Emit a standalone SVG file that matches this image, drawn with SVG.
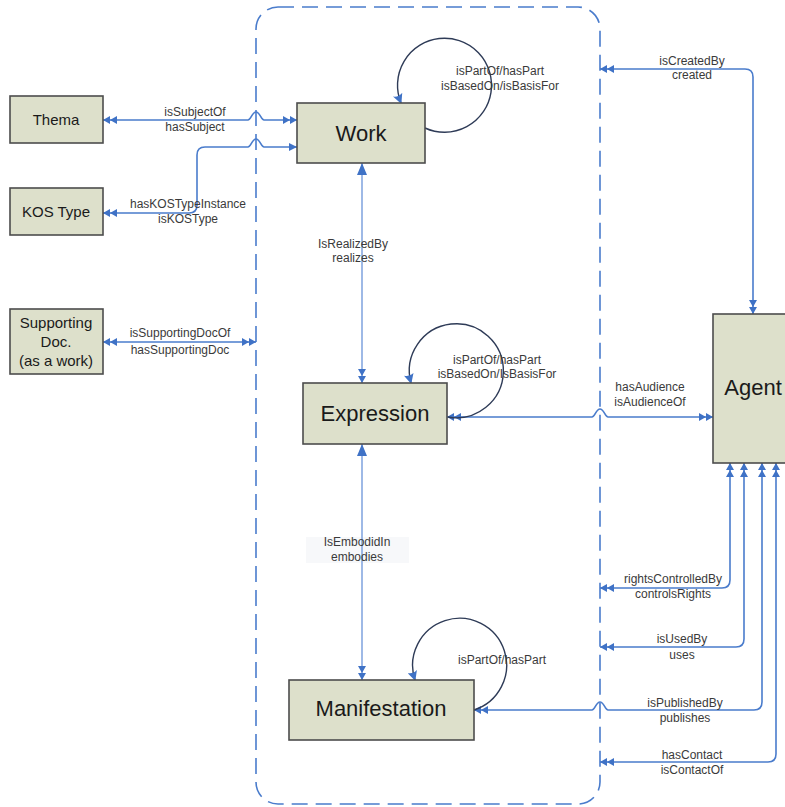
<svg xmlns="http://www.w3.org/2000/svg" width="785" height="807" viewBox="0 0 785 807">
<style>
.box{fill:#dde0cb;stroke:#4d4d4d;stroke-width:1.6}
.nl{font-family:"Liberation Sans",Arial,sans-serif;fill:#1a1a1a;text-anchor:middle}
.lb{font-family:"Liberation Sans",Arial,sans-serif;font-size:12px;fill:#3a3a3a;text-anchor:middle}
.c{fill:none;stroke:#4a7ccc;stroke-width:1.6}
.cl{fill:none;stroke:#86a8e0;stroke-width:1.6}
.loop{fill:none;stroke:#2e3b57;stroke-width:1.4}
</style>
<defs>
<marker id="dbl" markerUnits="userSpaceOnUse" viewBox="0 0 14 8" refX="14" refY="4" markerWidth="14" markerHeight="8" orient="auto-start-reverse">
<path d="M0,0 L7,4 L0,8 Z M7,0 L14,4 L7,8 Z" fill="#3f72c6"/>
</marker>
<marker id="sgl" markerUnits="userSpaceOnUse" viewBox="0 0 8 8" refX="8" refY="4" markerWidth="8" markerHeight="8" orient="auto-start-reverse">
<path d="M0,0 L8,4 L0,8 Z" fill="#3f72c6"/>
</marker>
<marker id="big" markerUnits="userSpaceOnUse" viewBox="0 0 12 10" refX="12" refY="5" markerWidth="12" markerHeight="10" orient="auto-start-reverse">
<path d="M0,0 L12,5 L0,10 Z" fill="#3f72c6"/>
</marker>
<marker id="la" markerUnits="userSpaceOnUse" viewBox="0 0 10 10" refX="9" refY="5" markerWidth="10" markerHeight="10" orient="auto">
<path d="M0,0 L10,5 L0,10 Q3,5 0,0 Z" fill="#3f72c6"/>
</marker>
</defs>

<g id="boundary">
<rect x="256" y="7" width="344" height="797" rx="22" fill="none" stroke="#4a7ccc" stroke-width="1.6" stroke-dasharray="16,8"/>
</g>

<g id="connectors">
<path class="c" d="M103,120 H248 C251,120 252,112 256,112 C260,112 261,120 264,120 H297" marker-start="url(#dbl)" marker-end="url(#dbl)"/>
<path class="c" d="M103,213 H189 Q197,213 197,205 V155 Q197,147 205,147 H248 C251,147 252,139 256,139 C260,139 261,147 264,147 H297" marker-start="url(#dbl)" marker-end="url(#sgl)"/>
<path class="c" d="M103,342 H256" marker-start="url(#dbl)" marker-end="url(#dbl)"/>
<path class="cl" d="M362,163 V383" marker-start="url(#big)" marker-end="url(#dbl)"/>
<path class="cl" d="M362,444 V680" marker-start="url(#big)" marker-end="url(#dbl)"/>
<path class="c" d="M447,417 H592 C595,417 596,409 600,409 C604,409 605,417 608,417 H713" marker-start="url(#dbl)" marker-end="url(#dbl)"/>
<path class="c" d="M753,314 V77 Q753,69 745,69 H600" marker-start="url(#dbl)" marker-end="url(#dbl)"/>
<path class="c" d="M730,463 V580 Q730,588 722,588 H600" marker-start="url(#dbl)" marker-end="url(#dbl)"/>
<path class="c" d="M744,463 V639 Q744,647 736,647 H600" marker-start="url(#dbl)" marker-end="url(#dbl)"/>
<path class="c" d="M762,463 V702 Q762,710 754,710 H608 C605,710 604,702 600,702 C596,702 595,710 592,710 H474" marker-start="url(#dbl)" marker-end="url(#dbl)"/>
<path class="c" d="M776,463 V754 Q776,762 768,762 H600" marker-start="url(#dbl)" marker-end="url(#dbl)"/>
<path class="loop" d="M425,128 A47,47 0 1 0 401,103" marker-end="url(#la)"/>
<path class="loop" d="M448,417 A47,47 0 1 0 411,383" marker-end="url(#la)"/>
<path class="loop" d="M474,710 A47,47 0 1 0 415,680" marker-end="url(#la)"/>
</g>

<g id="edge-labels">
<text class="lb" x="195" y="116">isSubjectOf</text>
<text class="lb" x="195" y="131">hasSubject</text>
<text class="lb" x="188" y="208">hasKOSTypeInstance</text>
<text class="lb" x="188" y="223">isKOSType</text>
<text class="lb" x="180" y="337">isSupportingDocOf</text>
<text class="lb" x="180" y="354">hasSupportingDoc</text>
<text class="lb" x="500" y="75">isPartOf/hasPart</text>
<text class="lb" x="500" y="90">isBasedOn/isBasisFor</text>
<text class="lb" x="353" y="248">IsRealizedBy</text>
<text class="lb" x="353" y="262">realizes</text>
<text class="lb" x="497" y="364">isPartOf/hasPart</text>
<text class="lb" x="497" y="378">isBasedOn/IsBasisFor</text>
<text class="lb" x="650" y="391">hasAudience</text>
<text class="lb" x="650" y="406">isAudienceOf</text>
<rect x="306" y="537" width="103" height="26" fill="#f7f8fa"/>
<line x1="362" y1="537" x2="362" y2="563" stroke="#86a8e0" stroke-width="1.6"/>
<text class="lb" x="357" y="546">IsEmbodidIn</text>
<text class="lb" x="357" y="561">embodies</text>
<text class="lb" x="502" y="664">isPartOf/hasPart</text>
<text class="lb" x="692" y="65">isCreatedBy</text>
<text class="lb" x="692" y="79">created</text>
<text class="lb" x="673" y="583">rightsControlledBy</text>
<text class="lb" x="673" y="598">controlsRights</text>
<text class="lb" x="682" y="643">isUsedBy</text>
<text class="lb" x="682" y="659">uses</text>
<text class="lb" x="685" y="707">isPublishedBy</text>
<text class="lb" x="685" y="722">publishes</text>
<text class="lb" x="692" y="759">hasContact</text>
<text class="lb" x="692" y="774">isContactOf</text>
</g>

<g id="thema"><rect class="box" x="10" y="96" width="93" height="47"/><text class="nl" x="56" y="125" font-size="15">Thema</text></g>
<g id="kos-type"><rect class="box" x="10" y="188" width="93" height="47"/><text class="nl" x="56" y="217" font-size="15">KOS Type</text></g>
<g id="supporting-doc"><rect class="box" x="10" y="309" width="93" height="65"/><text class="nl" x="56" y="328" font-size="15">Supporting</text><text class="nl" x="56" y="347" font-size="15">Doc.</text><text class="nl" x="56" y="366" font-size="15">(as a work)</text></g>
<g id="work"><rect class="box" x="297" y="103" width="128" height="60"/><text class="nl" x="361" y="141" font-size="22">Work</text></g>
<g id="expression"><rect class="box" x="303" y="383" width="144" height="61"/><text class="nl" x="375" y="421" font-size="22">Expression</text></g>
<g id="manifestation"><rect class="box" x="289" y="680" width="185" height="60"/><text class="nl" x="381" y="716" font-size="22">Manifestation</text></g>
<g id="agent"><rect class="box" x="713" y="314" width="90" height="149"/><text class="nl" x="753" y="395" font-size="22">Agent</text></g>
</svg>
